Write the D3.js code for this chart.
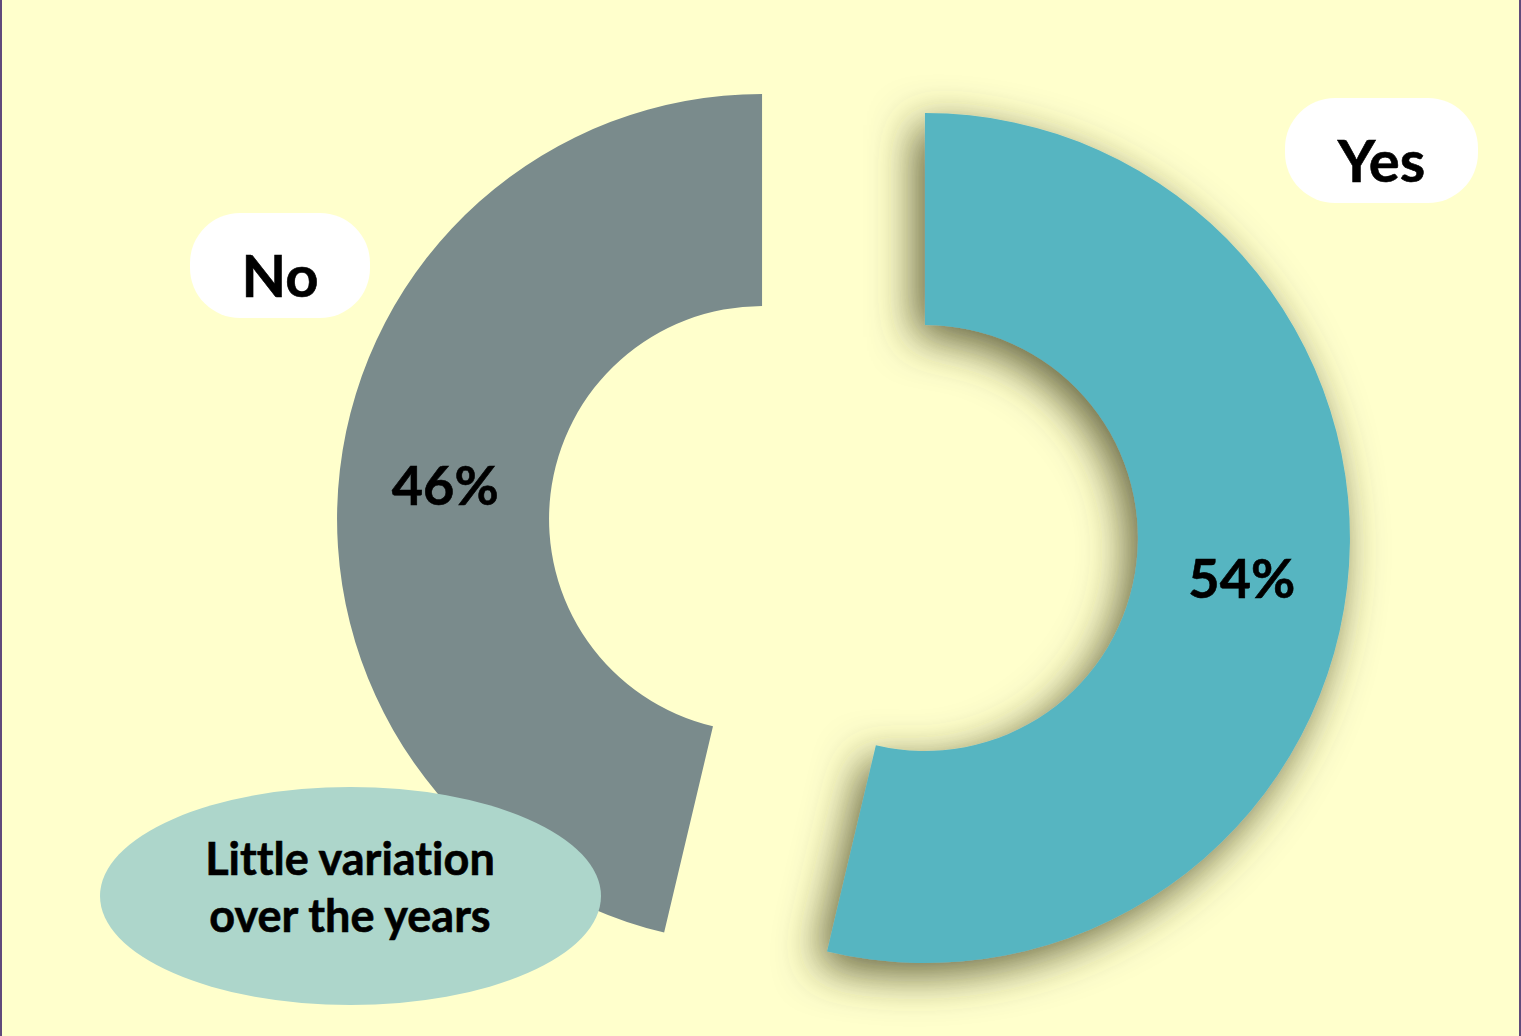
<!DOCTYPE html>
<html>
<head>
<meta charset="utf-8">
<script src="https://cdn.jsdelivr.net/npm/d3@7"></script>
<style>
  body { margin: 0; background: #FFFFCC; }
  text { font-family: Lato, "Open Sans", sans-serif; font-weight: bold; stroke: #000; stroke-width: 0.6px; font-variant-ligatures: none; }
</style>
</head>
<body>
<div id="chart"></div>
<script>
// data
var categories = ["Yes", "No"];
var values = [53.7, 46.3];
var valueLabels = ["54%", "46%"];
var noteLines = ["Little variation", "over the years"];

var width = 1521, height = 1036;
var cx = 843.5, cy = 528.5;
var outerR = 425, innerR = 213, explode = 82;

var colors = d3.scaleOrdinal()
    .domain(categories)
    .range(["#57B5C1", "#7A8B8C"]);

var svg = d3.select("#chart")
    .append("svg")
    .attr("width", width)
    .attr("height", height);

svg.append("rect")
    .attr("width", width)
    .attr("height", height)
    .attr("fill", "#FFFFCC");

// purple side borders
svg.append("rect").attr("x", 0).attr("y", 0).attr("width", 2).attr("height", height).attr("fill", "#604A7B");
svg.append("rect").attr("x", width - 2).attr("y", 0).attr("width", 2).attr("height", height).attr("fill", "#604A7B");

// soft shadow for the Yes slice
var defs = svg.append("defs");
var filter = defs.append("filter")
    .attr("id", "shadow")
    .attr("x", "-40%").attr("y", "-40%")
    .attr("width", "180%").attr("height", "180%");
filter.append("feDropShadow")
    .attr("dx", -10)
    .attr("dy", 12)
    .attr("stdDeviation", 22)
    .attr("flood-color", "#4a4728")
    .attr("flood-opacity", 0.85);

var data = categories.map((c, i) => ({ name: c, value: values[i], label: valueLabels[i] }));

var pie = d3.pie()
    .sort(null)
    .value(d => d.value);

var arc = d3.arc()
    .innerRadius(innerR)
    .outerRadius(outerR);

var arcs = pie(data);

function offset(d) {
    var a = (d.startAngle + d.endAngle) / 2;
    return [Math.sin(a) * explode, -Math.cos(a) * explode];
}

var slices = svg.selectAll(".slice")
    .data(arcs)
    .join("g")
    .attr("class", "slice")
    .attr("transform", d => {
        var o = offset(d);
        return "translate(" + (cx + o[0]) + "," + (cy + o[1]) + ")";
    });

slices.append("path")
    .attr("d", arc)
    .attr("fill", d => colors(d.data.name))
    .attr("filter", d => d.data.name === "Yes" ? "url(#shadow)" : null);

slices.append("text")
    .attr("x", d => arc.centroid(d)[0])
    .attr("y", d => arc.centroid(d)[1] + 23)
    .attr("text-anchor", "middle")
    .attr("font-size", 54)
    .attr("fill", "#000")
    .text(d => d.data.label);

// category label boxes
var boxes = [
    { name: "Yes", x: 1285, y: 98, w: 193, h: 105 },
    { name: "No", x: 190, y: 213, w: 180, h: 105 }
];

var boxG = svg.selectAll(".catbox")
    .data(boxes)
    .join("g")
    .attr("class", "catbox");

boxG.append("rect")
    .attr("x", d => d.x)
    .attr("y", d => d.y)
    .attr("width", d => d.w)
    .attr("height", d => d.h)
    .attr("rx", 50)
    .attr("ry", 50)
    .attr("fill", "#FFFFFF");

boxG.append("text")
    .attr("x", d => d.x + d.w / 2)
    .attr("y", d => d.y + d.h / 2 + 31)
    .attr("text-anchor", "middle")
    .attr("font-size", 58)
    .attr("fill", "#000")
    .text(d => d.name);

// note ellipse
var note = svg.append("g");
note.append("ellipse")
    .attr("cx", 350.5)
    .attr("cy", 896)
    .attr("rx", 250.5)
    .attr("ry", 109)
    .attr("fill", "#ADD6CB");

note.selectAll("text")
    .data(noteLines)
    .join("text")
    .attr("x", 350)
    .attr("y", (d, i) => 875 + i * 57)
    .attr("text-anchor", "middle")
    .attr("font-size", 45)
    .attr("fill", "#000")
    .text(d => d);
</script>
</body>
</html>
